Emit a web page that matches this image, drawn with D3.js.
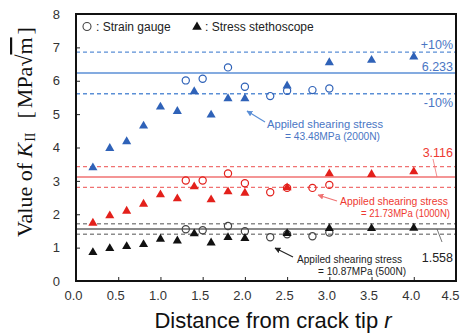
<!DOCTYPE html>
<html>
<head>
<meta charset="utf-8">
<script src="https://cdn.jsdelivr.net/npm/d3@7"></script>
<style>
  html, body { margin: 0; padding: 0; background: #fff; }
  svg { display: block; }
  text { font-family: Arial, "Liberation Sans", sans-serif; }
</style>
</head>
<body>
<svg id="chart" width="461" height="333"></svg>
<script>
// Distances from crack tip (stress stethoscope and strain gauge stations)
const stethoscopeR = [0.2, 0.4, 0.6, 0.8, 1.0, 1.2, 1.4, 1.6, 1.8, 2.0, 2.5, 3.0, 3.5, 4.0];
const gaugeR = [1.3, 1.5, 1.8, 2.0, 2.3, 2.5, 2.8, 3.0];

// K_II measured by the stress stethoscope (triangles)
const stethoscope2000 = [3.42, 4.00, 4.20, 4.67, 5.24, 5.11, 5.70, 5.00, 5.49, 5.49, 5.87, 6.57, 6.64, 6.74];
const stethoscope1000 = [1.76, 1.98, 2.12, 2.33, 2.61, 2.49, 2.85, 2.46, 2.70, 2.66, 2.82, 3.24, 3.22, 3.30];
const stethoscope500  = [0.88, 1.00, 1.06, 1.12, 1.28, 1.23, 1.44, 1.17, 1.33, 1.30, 1.45, 1.60, 1.60, 1.61];

// K_II measured by strain gauges (open circles)
const gauge2000 = [6.01, 6.06, 6.40, 5.82, 5.54, 5.70, 5.72, 5.77];
const gauge1000 = [3.01, 3.01, 3.22, 2.93, 2.66, 2.79, 2.79, 2.88];
const gauge500  = [1.55, 1.52, 1.65, 1.49, 1.31, 1.40, 1.34, 1.45];

// Theoretical K_II for each load, drawn with +/-10% bands
const theoryK = [6.233, 3.116, 1.558];
const stressLabels = ["= 43.48MPa (2000N)", "= 21.73MPa (1000N)", "= 10.87MPa (500N)"];

// Axis ticks
const xTicks = [0.0, 0.5, 1.0, 1.5, 2.0, 2.5, 3.0, 3.5, 4.0, 4.5];
const yTicks = [0, 1, 2, 3, 4, 5, 6, 7, 8];

const svg = d3.select("#chart");
const plotLeft = 76, plotRight = 456, plotTop = 14, plotBottom = 281;

const x = d3.scaleLinear().domain([0, 4.5]).range([plotLeft, plotRight]);
const y = d3.scaleLinear().domain([0, 8]).range([plotBottom, plotTop]);

const palette = [
  { mark: "#2f62b8", line: "#5b8fd6", text: "#4a76c4" },
  { mark: "#e3201b", line: "#f07272", text: "#ee3a32" },
  { mark: "#111111", line: "#8c8c8c", text: "#222222" }
];

// Arrow heads
const defs = svg.append("defs");
palette.forEach((p, i) => {
  defs.append("marker")
    .attr("id", "arrow" + i)
    .attr("viewBox", "0 0 10 10")
    .attr("refX", 9).attr("refY", 5)
    .attr("markerWidth", 6).attr("markerHeight", 6)
    .attr("markerUnits", "userSpaceOnUse")
    .attr("orient", "auto")
    .append("path").attr("d", "M0,0 L10,5 L0,10 Z").attr("fill", i === 2 ? "#222" : p.line);
});

// Reference lines: solid at theory, dashed at +/-10%
const refG = svg.append("g");
theoryK.forEach((k, i) => {
  const col = palette[i].line;
  [1.1, 0.9].forEach(f => {
    refG.append("line")
      .attr("x1", x(0)).attr("x2", x(4.5))
      .attr("y1", y(k * f)).attr("y2", y(k * f))
      .attr("stroke", col).attr("stroke-width", 1.4)
      .attr("stroke-dasharray", "4,3");
  });
  refG.append("line")
    .attr("x1", x(0)).attr("x2", x(4.5))
    .attr("y1", y(k)).attr("y2", y(k))
    .attr("stroke", col).attr("stroke-width", i === 2 ? 2 : 1.6);
});

// Axes with inward ticks
const xAxis = d3.axisBottom(x).tickValues(xTicks).tickFormat(d3.format(".1f"))
  .tickSizeInner(-4).tickSizeOuter(0).tickPadding(10);
const yAxis = d3.axisLeft(y).tickValues(yTicks).tickFormat(d3.format("d"))
  .tickSizeInner(-4).tickSizeOuter(0).tickPadding(16);

const gx = svg.append("g").attr("transform", `translate(0,${plotBottom})`).call(xAxis);
const gy = svg.append("g").attr("transform", `translate(${plotLeft},0)`).call(yAxis);
[gx, gy].forEach(g => {
  g.select(".domain").remove();
  g.selectAll(".tick line").attr("stroke", "#222").attr("stroke-width", 1);
  g.selectAll(".tick text").attr("fill", "#333").style("font-size", "13px")
    .style("font-family", "Arial, 'Liberation Sans', sans-serif");
});
gx.selectAll(".tick text").attr("dx", d => d === 4.5 ? -6 : -3);
gx.selectAll(".tick").filter(d => d === 0 || d === 4.5).select("line").remove();

// Plot frame
svg.append("rect")
  .attr("x", plotLeft).attr("y", plotTop)
  .attr("width", plotRight - plotLeft).attr("height", plotBottom - plotTop)
  .attr("fill", "none").attr("stroke", "#111").attr("stroke-width", 2);

// Markers
const tri = d3.symbol().type(d3.symbolTriangle).size(36);
const stethSets = [stethoscope2000, stethoscope1000, stethoscope500];
const gaugeSets = [gauge2000, gauge1000, gauge500];

gaugeSets.forEach((vals, i) => {
  svg.append("g").selectAll("circle")
    .data(vals.map((v, j) => [gaugeR[j], v]))
    .join("circle")
    .attr("cx", d => x(d[0])).attr("cy", d => y(d[1]))
    .attr("r", 3.6)
    .attr("fill", "none")
    .attr("stroke", i === 2 ? "#444" : palette[i].mark)
    .attr("stroke-width", 1.2);
});
stethSets.forEach((vals, i) => {
  svg.append("g").selectAll("path")
    .data(vals.map((v, j) => [stethoscopeR[j], v]))
    .join("path")
    .attr("d", tri)
    .attr("transform", d => `translate(${x(d[0])},${y(d[1]) + 0.8})`)
    .attr("fill", palette[i].mark);
});

// Value labels at the right edge
const rightLabel = (txt, yy, col) =>
  svg.append("text").attr("x", 453).attr("y", yy).attr("text-anchor", "end")
    .attr("fill", col).style("font-size", "12.5px").text(txt);

rightLabel("+10%", y(theoryK[0] * 1.1) - 3, palette[0].text);
rightLabel(d3.format(".3f")(theoryK[0]), y(theoryK[0]) - 2, palette[0].text);
rightLabel("-10%", y(theoryK[0] * 0.9) + 13, palette[0].text);
rightLabel(d3.format(".3f")(theoryK[1]), y(theoryK[1]) - 20, palette[1].text);
rightLabel(d3.format(".3f")(theoryK[2]), y(theoryK[2]) + 33, palette[2].text);

// Leaders from value labels to their lines
svg.append("line").attr("x1", 433).attr("y1", 159).attr("x2", 437).attr("y2", y(theoryK[1]))
  .attr("stroke", palette[1].line).attr("stroke-width", 0.8);
svg.append("line").attr("x1", 442).attr("y1", 242).attr("x2", 437).attr("y2", y(theoryK[2]))
  .attr("stroke", "#555").attr("stroke-width", 0.8);

// Load annotations with arrows
const notes = [
  { i: 0, l1: [267, 127.5], l2: [285, 140], w1: 116, w2: 95, fs: 11, a: [[265, 122], [247, 111]] },
  { i: 1, l1: [340, 205], l2: [361, 216.5], w1: 108, w2: 89, fs: 11, a: [[337, 201], [318, 195]] },
  { i: 2, l1: [297, 263], l2: [318, 274.5], w1: 105, w2: 88, fs: 10.5, a: [[293, 257], [275, 248]] }
];
notes.forEach(n => {
  const col = palette[n.i].text;
  svg.append("text").attr("x", n.l1[0]).attr("y", n.l1[1]).attr("fill", col)
    .style("font-size", n.fs + "px").attr("textLength", n.w1).attr("lengthAdjust", "spacingAndGlyphs")
    .text("Appiled shearing stress");
  svg.append("text").attr("x", n.l2[0]).attr("y", n.l2[1]).attr("fill", col)
    .style("font-size", n.fs + "px").attr("textLength", n.w2).attr("lengthAdjust", "spacingAndGlyphs")
    .text(stressLabels[n.i]);
  svg.append("line")
    .attr("x1", n.a[0][0]).attr("y1", n.a[0][1]).attr("x2", n.a[1][0]).attr("y2", n.a[1][1])
    .attr("stroke", n.i === 2 ? "#222" : palette[n.i].line).attr("stroke-width", 1.2)
    .attr("marker-end", `url(#arrow${n.i})`);
});

// Legend
svg.append("circle").attr("cx", 87).attr("cy", 26.5).attr("r", 4)
  .attr("fill", "none").attr("stroke", "#444").attr("stroke-width", 1.1);
svg.append("text").attr("x", 96).attr("y", 31).attr("fill", "#222").style("font-size", "12px")
  .text(":  Strain gauge");
svg.append("path").attr("d", d3.symbol().type(d3.symbolTriangle).size(40))
  .attr("transform", "translate(197,27)").attr("fill", "#111");
svg.append("text").attr("x", 205).attr("y", 31).attr("fill", "#222").style("font-size", "12px")
  .text(":  Stress stethoscope");

// Axis titles
const xt = svg.append("text").attr("x", 273).attr("y", 328).attr("text-anchor", "middle")
  .attr("fill", "#111").style("font-size", "22px");
xt.append("tspan").text("Distance from crack tip ");
xt.append("tspan").style("font-style", "italic").text("r");

const yt = svg.append("text")
  .attr("transform", "translate(32,132) rotate(-90)")
  .attr("text-anchor", "middle").attr("fill", "#111")
  .style("font-family", "'Liberation Serif', 'Times New Roman', serif")
  .style("font-size", "22px");
yt.append("tspan").text("Value of ");
yt.append("tspan").style("font-style", "italic").text("K");
yt.append("tspan").attr("dy", 3).attr("dx", 1).style("font-size", "14px").text("II");
yt.append("tspan").attr("dy", -3).attr("dx", 14).text("[");
yt.append("tspan").attr("dx", 3).text("MPa");
yt.append("tspan").text("√");
yt.append("tspan").style("text-decoration", "overline").text("m");
yt.append("tspan").attr("dx", 3).text("]");
</script>
</body>
</html>
